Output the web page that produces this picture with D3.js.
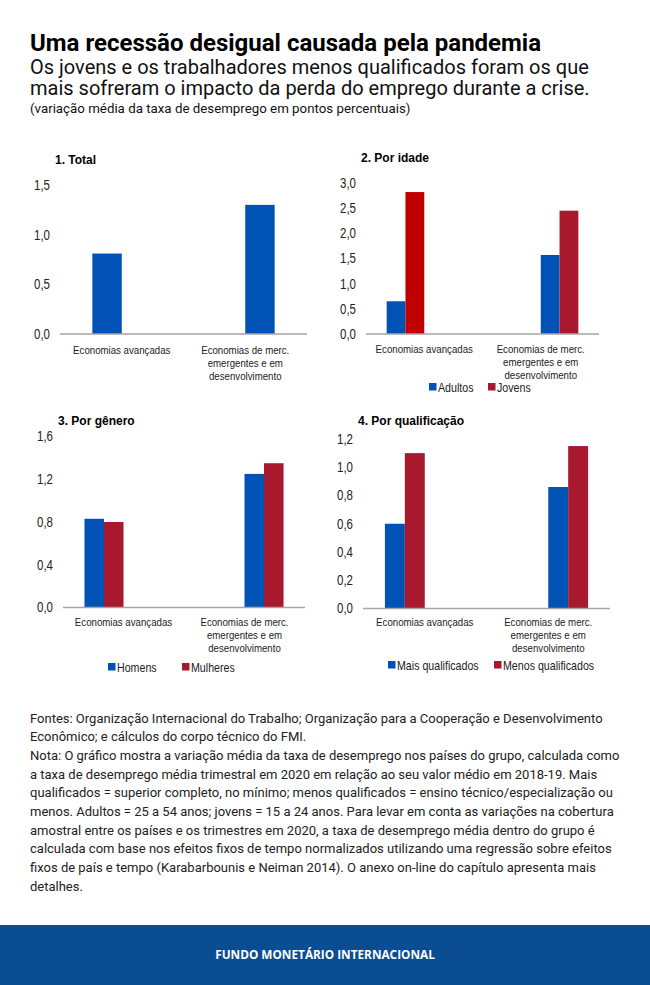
<!DOCTYPE html>
<html>
<head>
<meta charset="utf-8">
<script src="https://cdn.jsdelivr.net/npm/d3@7"></script>
<style>
  body { margin: 0; background: #fff; }
  svg text { font-family: Roboto, "Liberation Sans", sans-serif; }
</style>
</head>
<body>
<script>
'use strict';

// ---- data ----
var categories = [
    ["Economias avançadas"],
    ["Economias de merc.", "emergentes e em", "desenvolvimento"]
];
var totalValues = [0.81, 1.30];
var adultos = [0.65, 1.57];
var jovens = [2.82, 2.45];
var homens = [0.83, 1.25];
var mulheres = [0.80, 1.35];
var maisQualificados = [0.60, 0.86];
var menosQualificados = [1.10, 1.15];

var ticksTotal = [0, 0.5, 1.0, 1.5];
var ticksIdade = [0, 0.5, 1.0, 1.5, 2.0, 2.5, 3.0];
var ticksGenero = [0, 0.4, 0.8, 1.2, 1.6];
var ticksQualif = [0, 0.2, 0.4, 0.6, 0.8, 1.0, 1.2];

var notes = [
    "Fontes: Organização Internacional do Trabalho; Organização para a Cooperação e Desenvolvimento",
    "Econômico; e cálculos do corpo técnico do FMI.",
    "Nota: O gráfico mostra a variação média da taxa de desemprego nos países do grupo, calculada como",
    "a taxa de desemprego média trimestral em 2020 em relação ao seu valor médio em 2018-19. Mais",
    "qualificados = superior completo, no mínimo; menos qualificados = ensino técnico/especialização ou",
    "menos. Adultos = 25 a 54 anos; jovens = 15 a 24 anos. Para levar em conta as variações na cobertura",
    "amostral entre os países e os trimestres em 2020, a taxa de desemprego média dentro do grupo é",
    "calculada com base nos efeitos fixos de tempo normalizados utilizando uma regressão sobre efeitos",
    "fixos de país e tempo (Karabarbounis e Neiman 2014). O anexo on-line do capítulo apresenta mais",
    "detalhes."
];

var blue = "#0052b4",
    red = "#a8192e",
    brightRed = "#c00000",
    axisGray = "#a6a6a6";

var chartFont = "'Liberation Sans', Arial, sans-serif";
var comma = d3.formatLocale({ decimal: ",", thousands: ".", grouping: [3], currency: ["", ""] }).format(".1f");

// no narrow face installed, so squeeze Liberation Sans around each text's anchor
function narrow(sel) {
    sel.style("font-family", chartFont)
        .attr("transform", function() {
            var t = d3.select(this),
                ax = +t.attr("x") || 0,
                ay = +t.attr("y") || 0;
            return "translate(" + ax + "," + ay + ") scale(0.82,1) translate(" + (-ax) + "," + (-ay) + ")";
        });
}

var width = 650, height = 985;

var svg = d3.select("body").append("svg")
    .attr("width", width)
    .attr("height", height);

// ---- headings ----
svg.append("text").attr("x", 30).attr("y", 51)
    .style("font-size", "24px").style("font-weight", 700).attr("fill", "#000")
    .text("Uma recessão desigual causada pela pandemia");
svg.append("text").attr("x", 30).attr("y", 74)
    .style("font-size", "20px").attr("fill", "#111")
    .text("Os jovens e os trabalhadores menos qualificados foram os que");
svg.append("text").attr("x", 30).attr("y", 94.5)
    .style("font-size", "20px").attr("fill", "#111")
    .text("mais sofreram o impacto da perda do emprego durante a crise.");
svg.append("text").attr("x", 30).attr("y", 113)
    .style("font-size", "13.3px").attr("fill", "#111")
    .text("(variação média da taxa de desemprego em pontos percentuais)");

// ---- panels ----
var panels = [
    { title: "1. Total", titleY: 163.5, left: 60, right: 307, top: 185, bottom: 334, max: 1.5, ticks: ticksTotal,
      slots: 2, labelGap: 16, legendY: null,
      series: [ { name: "Economias avançadas", values: [totalValues[0], null], color: [blue, blue], slot: 0 },
                { name: "Economias de merc.", values: [null, totalValues[1]], color: [blue, blue], slot: 1 } ] },
    { title: "2. Por idade", titleY: 161.5, left: 366, right: 599, top: 183, bottom: 334, max: 3.0, ticks: ticksIdade,
      slots: 4, labelGap: 15, legendY: 387, legendX: [429, 488],
      series: [ { name: "Adultos", values: adultos, color: [blue, blue] },
                { name: "Jovens", values: jovens, color: [brightRed, red] } ] },
    { title: "3. Por gênero", titleY: 424.5, left: 63, right: 305, top: 436.5, bottom: 607.5, max: 1.6, ticks: ticksGenero,
      slots: 4, labelGap: 14.5, legendY: 667, legendX: [108, 182],
      series: [ { name: "Homens", values: homens, color: [blue, blue] },
                { name: "Mulheres", values: mulheres, color: [red, red] } ] },
    { title: "4. Por qualificação", titleY: 425, left: 363, right: 610, top: 439, bottom: 608.5, max: 1.2, ticks: ticksQualif,
      slots: 4, labelGap: 14, legendY: 665, legendX: [388, 494],
      series: [ { name: "Mais qualificados", values: maisQualificados, color: [blue, blue] },
                { name: "Menos qualificados", values: menosQualificados, color: [red, red] } ] }
];

panels.forEach(function(p) {
    var g = svg.append("g");

    var x = d3.scaleBand()
        .domain(d3.range(categories.length))
        .range([p.left, p.right])
        .padding(0);

    var inner = d3.scaleBand()
        .domain(d3.range(p.slots))
        .range([0, x.bandwidth()])
        .paddingInner(0)
        .paddingOuter(1.1);

    var y = d3.scaleLinear()
        .domain([0, p.max])
        .range([p.bottom, p.top]);

    // title
    g.append("text")
        .attr("x", p.left - 5)
        .attr("y", p.titleY)
        .style("font-family", chartFont)
        .style("font-size", "12px").style("font-weight", 700)
        .attr("fill", "#000")
        .text(p.title);

    // y axis labels
    var yAxis = g.append("g")
        .attr("transform", "translate(" + p.left + ",0)")
        .call(d3.axisLeft(y).tickValues(p.ticks).tickFormat(comma).tickSize(0).tickPadding(10));
    yAxis.select(".domain").remove();
    yAxis.selectAll("text")
        .style("font-size", "14px")
        .attr("fill", "#222")
        .call(narrow);

    // bars
    var bars = [];
    p.series.forEach(function(s, si) {
        s.values.forEach(function(v, ci) {
            if (v == null) return;
            var slot = p.slots === 2 ? s.slot : ci * 2 + si;
            bars.push({ value: v, cat: ci, slot: slot, color: s.color[ci] });
        });
    });

    g.selectAll("rect.bar")
        .data(bars)
        .enter()
        .append("rect")
        .attr("class", "bar")
        .attr("x", function(d) { return x(d.cat) + inner(d.slot); })
        .attr("width", inner.bandwidth())
        .attr("y", function(d) { return y(d.value); })
        .attr("height", function(d) { return y(0) - y(d.value); })
        .attr("fill", function(d) { return d.color; });

    // baseline
    g.append("line")
        .attr("x1", p.left).attr("x2", p.right)
        .attr("y1", y(0)).attr("y2", y(0))
        .attr("stroke", axisGray).attr("stroke-width", 1.5);

    // category labels
    var labels = g.selectAll("text.cat")
        .data(categories)
        .enter()
        .append("text")
        .attr("class", "cat")
        .attr("text-anchor", "middle")
        .attr("x", function(d, i) { return x(i) + x.bandwidth() / 2; })
        .attr("y", y(0) + p.labelGap + 4)
        .style("font-size", "11.8px")
        .attr("fill", "#222")
        .call(narrow);
    labels.selectAll("tspan")
        .data(function(d, i) { return d.map(function(line) { return { line: line, cat: i }; }); })
        .enter()
        .append("tspan")
        .attr("x", function(d) { return x(d.cat) + x.bandwidth() / 2; })
        .attr("y", function(d, i) { return y(0) + p.labelGap + 4 + i * 13; })
        .text(function(d) { return d.line; });

    // legend
    if (p.legendY != null) {
        var items = g.selectAll("g.legend")
            .data(p.series)
            .enter()
            .append("g")
            .attr("class", "legend")
            .attr("transform", function(d, i) { return "translate(" + p.legendX[i] + "," + p.legendY + ")"; });
        items.append("rect")
            .attr("x", 0).attr("y", -4)
            .attr("width", 7.5).attr("height", 7.5)
            .attr("fill", function(d) { return d.color[d.color.length - 1]; });
        items.append("text")
            .attr("x", 9).attr("y", 4.5)
            .style("font-size", "13px")
            .attr("fill", "#222")
            .text(function(d) { return d.name; })
            .call(narrow);
    }
});

// ---- notes ----
svg.append("g").selectAll("text")
    .data(notes)
    .enter()
    .append("text")
    .attr("x", 30)
    .attr("y", function(d, i) { return 722.5 + i * 18.67; })
    .style("font-size", "13px")
    .attr("fill", "#222")
    .text(function(d) { return d; });

// ---- banner ----
svg.append("rect")
    .attr("x", 0).attr("y", 925)
    .attr("width", width).attr("height", height - 925)
    .attr("fill", "#0b4d92");
svg.append("text")
    .attr("x", width / 2).attr("y", 958.5)
    .attr("text-anchor", "middle")
    .style("font-family", "'Open Sans', sans-serif")
    .style("font-size", "11.8px").style("font-weight", 700)
    .attr("fill", "#fff")
    .text("FUNDO MONETÁRIO INTERNACIONAL");
</script>
</body>
</html>
